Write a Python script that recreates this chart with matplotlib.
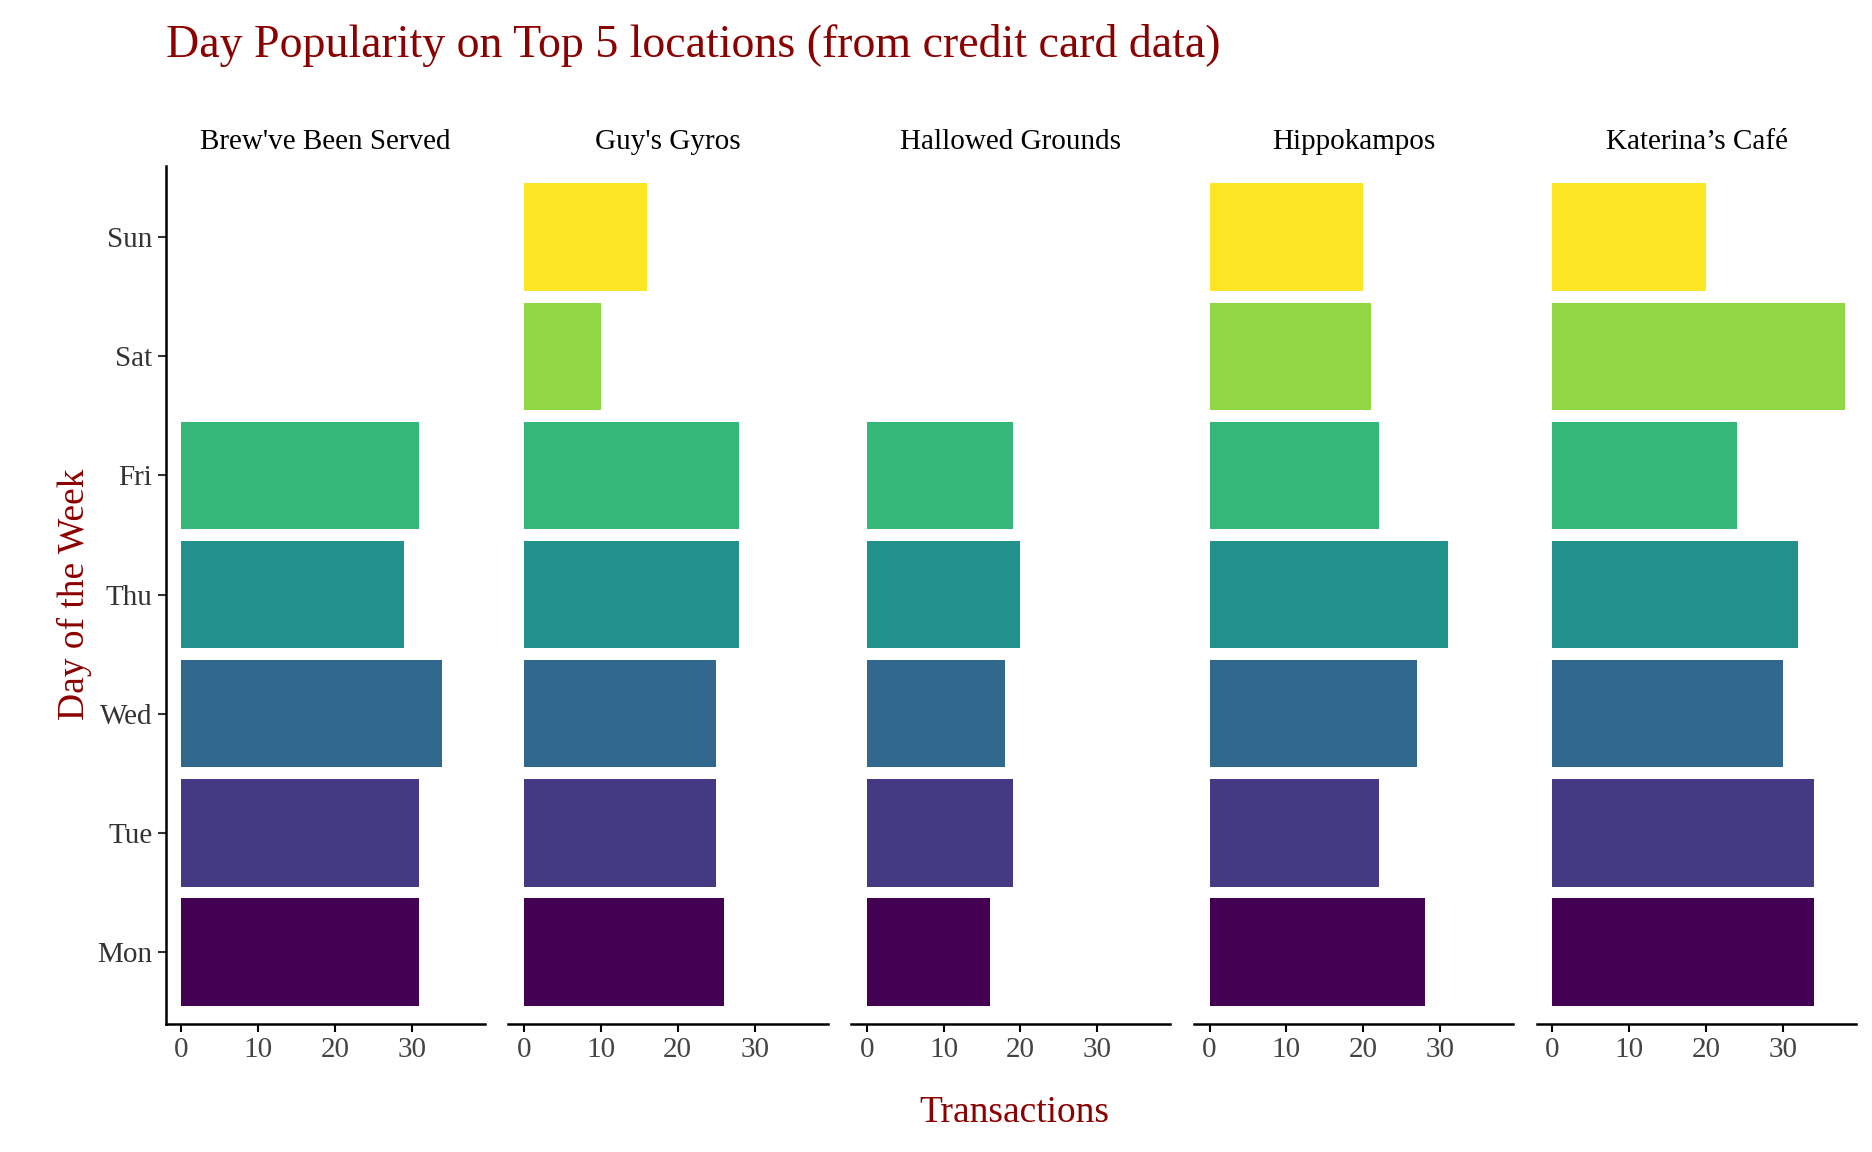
import matplotlib.pyplot as plt
import numpy as np

plt.rcParams['font.family'] = ['Liberation Serif', 'DejaVu Serif']

days = ["Mon", "Tue", "Wed", "Thu", "Fri", "Sat", "Sun"]
locations = ["Brew've Been Served", "Guy's Gyros", "Hallowed Grounds", "Hippokampos", "Katerina’s Café"]
brew = [31, 31, 34, 29, 31, 0, 0]
gyros = [26, 25, 25, 28, 28, 10, 16]
hallowed = [16, 19, 18, 20, 19, 0, 0]
hippo = [28, 22, 27, 31, 22, 21, 20]
katerina = [34, 34, 30, 32, 24, 38, 20]
values = [brew, gyros, hallowed, hippo, katerina]

colors = plt.cm.viridis(np.linspace(0, 1, 7))

fig = plt.figure(figsize=(18.72, 11.52), dpi=100)
W, H = 1560, 960
ytop, ybot = 138, 853
for i, (loc, vals) in enumerate(zip(locations, values)):
    left = 138 + i * 285.7
    ax = fig.add_axes([left / W, 1 - ybot / H, 266 / W, (ybot - ytop) / H])
    y = np.arange(7)
    for j in range(7):
        if vals[j] > 0:
            ax.barh(j, vals[j], height=0.9, color=colors[j])
    ax.set_xlim(-2, 39.5)
    ax.set_ylim(-0.6, 6.6)
    ax.set_xticks([0, 10, 20, 30])
    ax.set_yticks(y)
    ax.tick_params(labelsize=21, colors='#333333', length=6, width=1.5)
    ax.tick_params(axis='x', colors='black', labelcolor='#444444')
    for s in ['top', 'right']:
        ax.spines[s].set_visible(False)
    ax.spines['bottom'].set_linewidth(1.8)
    ax.spines['left'].set_linewidth(1.8)
    if i == 0:
        ax.set_yticklabels(days)
        ax.set_ylabel("Day of the Week", color='#8B0000', fontsize=27)
    else:
        ax.spines['left'].set_visible(False)
        ax.tick_params(axis='y', left=False, labelleft=False)
    ax.set_title(loc, fontsize=21, pad=12)

fig.text(845 / W, 1 - 927 / H, "Transactions", color='#8B0000', fontsize=27, ha='center', va='center')
fig.text(138 / W, 1 - 38 / H, "Day Popularity on Top 5 locations (from credit card data)",
         color='#8B0000', fontsize=33, ha='left', va='center')

fig.savefig("out.png", dpi=100)
